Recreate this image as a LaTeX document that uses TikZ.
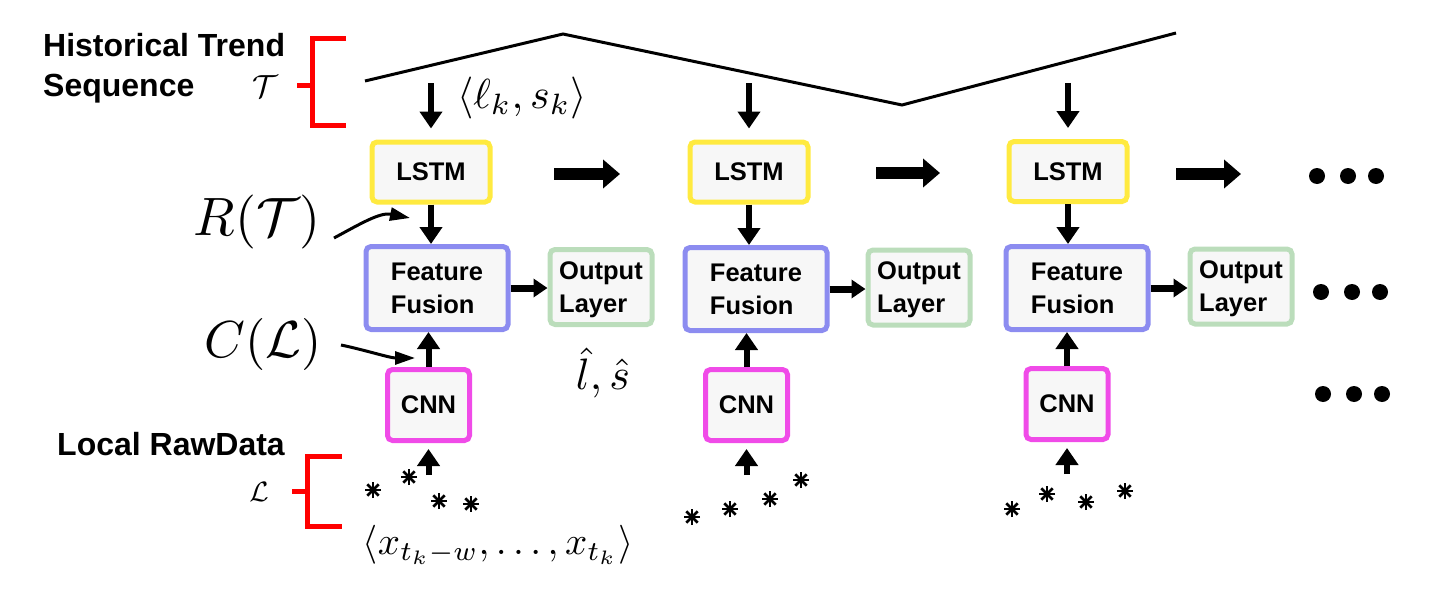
\documentclass[tikz,border=0pt]{standalone}
\usepackage{fontspec}
\newfontfamily\lab{Liberation Sans}
\usetikzlibrary{arrows.meta,calc}
\definecolor{cyel}{HTML}{FFEA40}
\definecolor{cpur}{HTML}{8C8CF0}
\definecolor{cgrn}{HTML}{BBDDBB}
\definecolor{cmag}{HTML}{F04BE8}
\definecolor{boxfill}{HTML}{F7F7F7}
\begin{document}
\begin{tikzpicture}[x=1pt,y=-1pt,
  box/.style={draw, line width=5pt, rounded corners=5pt, fill=boxfill, inner sep=0pt,
    font=\lab\bfseries\fontsize{25.5}{33}\selectfont, align=left},
  lstmbox/.style={box, draw=cyel, minimum width=118pt, minimum height=60pt},
  ffbox/.style={box, draw=cpur, minimum width=142pt, minimum height=83pt},
  outbox/.style={box, draw=cgrn, minimum width=102pt, minimum height=75pt, text depth=0pt},
  cnnbox/.style={box, draw=cmag, minimum width=82pt, minimum height=71pt},
  lbl/.style={font=\lab\bfseries\fontsize{32}{38}\selectfont, inner sep=0pt},
  arr/.style={line width=6pt, -{Triangle[width=22pt,length=17pt]}},
  sarr/.style={line width=7pt, -{Triangle[width=18pt,length=14pt]}},
  fatarr/.style={line width=12pt, -{Triangle[width=28pt,length=17pt]}},
  thinarr/.style={line width=3pt, -{Triangle[width=13pt,length=20pt]}},
  ast/.pic={\foreach \a in {0,45,90,135} \draw[line width=2.6pt] (\a:8) -- (\a+180:8);},
  dot/.style={circle, fill=black, minimum size=16pt, inner sep=0pt}
]
\useasboundingbox (0,0) rectangle (1446,594);

% left labels
\node[lbl, anchor=base west] (ht1) at (43,57) {Historical Trend};
\node[lbl, anchor=base west] (ht2) at (43,96) {Sequence};
\node[lbl, anchor=base west] (lrd) at (57,455) {Local RawData};
\node[inner sep=0pt] (tcal) at (265,87) {\scalebox{3.2}{$\mathcal{T}$}};
\node[inner sep=0pt] (lcal) at (259,492) {\scalebox{2.8}{$\mathcal{L}$}};

% red brackets
\draw[red, line width=5pt] (346,39) -- (312,39) -- (312,125) -- (346,125);
\draw[red, line width=5pt] (297,86) -- (312,86);
\draw[red, line width=5pt] (342,456) -- (307,456) -- (307,526) -- (342,526);
\draw[red, line width=5pt] (292,491) -- (307,491);

% trend line
\draw[line width=3pt, line join=miter] (365,81) -- (563,34) -- (902,105) -- (1176,33);

% math labels
\node[inner sep=0pt] (lk) at (522,98) {\scalebox{4.2}{$\langle \ell_k, s_k\rangle$}};
\node[inner sep=0pt] (rt) at (257,222) {\scalebox{5.4}{$R(\mathcal{T})$}};
\node[inner sep=0pt] (cl) at (263,344) {\scalebox{5.2}{$C(\mathcal{L})$}};
\node[inner sep=0pt] (ls) at (603,373) {\scalebox{4.4}{$\hat{l},\hat{s}$}};
\node[inner sep=0pt] (xs) at (498,545) {\scalebox{3.9}{$\langle x_{t_k-w},\ldots,x_{t_k}\rangle$}};

% boxes
\node[lstmbox] (lstm1) at (431,172) {LSTM};
\node[lstmbox] (lstm2) at (749,172) {LSTM};
\node[lstmbox] (lstm3) at (1068,171.5) {LSTM};
\node[ffbox] (ff1) at (437,288) {Feature\\Fusion};
\node[ffbox] (ff2) at (756,289) {Feature\\Fusion};
\node[ffbox] (ff3) at (1077,288) {Feature\\Fusion};
\node[outbox] (out1) at (601,287) {Output\\Layer};
\node[outbox] (out2) at (919,287.5) {Output\\Layer};
\node[outbox] (out3) at (1241,286.5) {Output\\Layer};
\node[cnnbox] (cnn1) at (428.5,405) {CNN};
\node[cnnbox] (cnn2) at (746.5,405) {CNN};
\node[cnnbox] (cnn3) at (1067,404) {CNN};

% arrows
\foreach \i in {1,2,3} {
  \draw[arr] ($(lstm\i.north)+(0,-56)$) -- ($(lstm\i.north)+(0,-11)$);
  \draw[arr] (lstm\i.south) -- (lstm\i.south |- ff\i.north);
  \draw[arr] (cnn\i.north) -- (cnn\i.north |- ff\i.south);
  \draw[arr] ($(cnn\i.south)+(0,32)$) -- ($(cnn\i.south)+(0,6)$);
  \draw[sarr] (ff\i.east) -- (ff\i.east -| out\i.west);
}

\coordinate (r1a) at (554,174); \coordinate (r1b) at (620,174);
\coordinate (r2a) at (876,173); \coordinate (r2b) at (940,173);
\coordinate (r3a) at (1176,174); \coordinate (r3b) at (1241,174);
\draw[fatarr] (r1a) -- (r1b);
\draw[fatarr] (r2a) -- (r2b);
\draw[fatarr] (r3a) -- (r3b);

% curved arrows
\coordinate (rtA) at (334,238); \coordinate (rtB) at (410,218);
\draw[thinarr] (rtA) .. controls (360,224) and (380,212) .. (rtB);
\coordinate (clA) at (341,345); \coordinate (clB) at (415,358);
\draw[thinarr] (clA) .. controls (365,350) and (390,358) .. (clB);

% dots
\foreach \x [count=\j] in {1317,1348,1376} {
  \node[dot] (da\j) at (\x,176) {};
  \node[dot] (db\j) at (\x+4,292) {};
  \node[dot] (dc\j) at (\x+6,394) {};
}

% data points
\foreach \p in {(373,490),(409,477),(439,501),(471,504),
                (692,517),(730,509),(770,499),(801,480),
                (1012,509),(1047,494),(1086,502),(1125,491)}
  \pic at \p {ast};
\end{tikzpicture}
\end{document}
